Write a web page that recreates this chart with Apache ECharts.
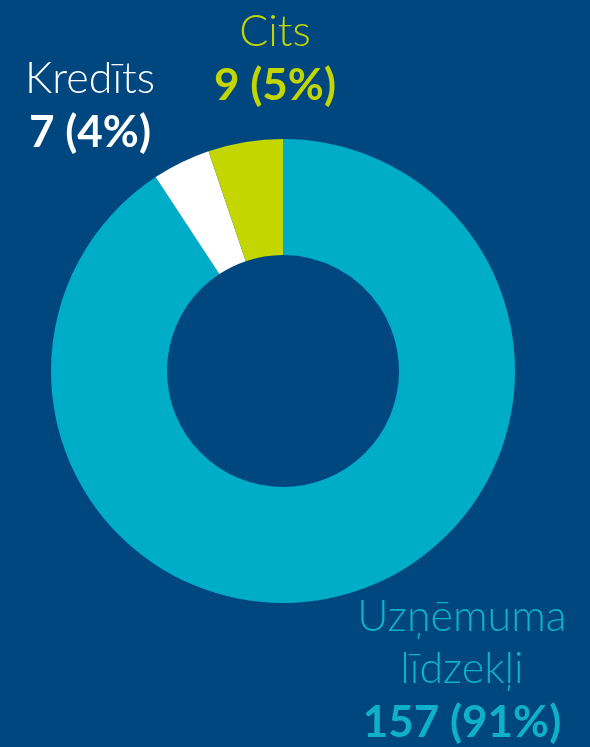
<!DOCTYPE html>
<html>
<head>
<meta charset="utf-8">
<script src="https://cdn.jsdelivr.net/npm/echarts@6/dist/echarts.min.js"></script>
<style>
  html, body { margin: 0; padding: 0; background: #00477f; }
  #chart-container { width: 590px; height: 747px; }
</style>
</head>
<body>
<div id="chart-container"></div>
<script>
var names = ['Uzņēmuma\nlīdzekļi', 'Kredīts', 'Cits'];
var values = [157, 7, 9];
var colors = ['#00adc9', '#ffffff', '#c4d600'];
var textColors = ['#0fb0cc', '#ffffff', '#c4d600'];

// where each label block sits (centre of the text block)
var labelSpots = [[462, 671], [90, 107], [275, 60]];

var chartDom = document.getElementById('chart-container');
var myChart = echarts.init(chartDom);

var data = names.map(function (n, i) {
  return {
    name: n,
    value: values[i],
    itemStyle: { color: colors[i] },
    label: {
      rich: {
        n: { color: textColors[i], fontSize: 43, fontWeight: 300, fontFamily: 'Lato', lineHeight: 52, align: 'center' },
        v: { color: textColors[i], fontSize: 44, fontWeight: 'bold', fontFamily: 'Lato', lineHeight: 56, align: 'center' }
      }
    }
  };
});

var option = {
  backgroundColor: '#00477f',
  animation: false,
  series: [{
    type: 'pie',
    center: [283, 371],
    radius: [116, 232],
    startAngle: 90,
    clockwise: true,
    percentPrecision: 0,
    silent: true,
    avoidLabelOverlap: false,
    data: data,
    label: {
      show: true,
      position: 'outside',
      formatter: '{n|{b}}\n{v|{c} ({d}%)}',
      align: 'center',
      overflow: 'none',
      width: 400
    },
    labelLine: { show: false },
    labelLayout: function (params) {
      var p = labelSpots[params.dataIndex];
      return { x: p[0], y: p[1], align: 'center', verticalAlign: 'middle' };
    }
  }]
};

option && myChart.setOption(option);
</script>
</body>
</html>
